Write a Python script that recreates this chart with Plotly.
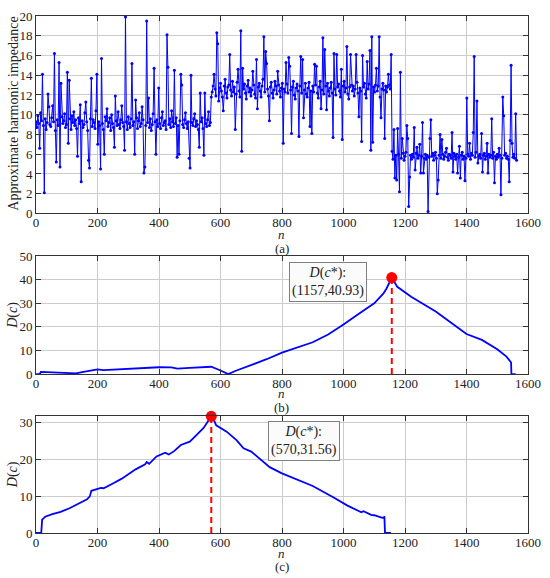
import plotly.graph_objects as go

# ---------------- data ----------------
step = 3
seg1_start, seg2_start, seg3_start = 0, 570, 1158

imp_seg1 = [
    9.3, 8.7, 9.9, 9.1, 6.6, 10.2, 9.4, 14.1, 8.9, 2.1,
    9.6, 8.5, 9.2, 12.1, 10.8, 9.0, 8.8, 9.7, 10.9, 9.3,
    16.2, 8.4, 5.2, 9.5, 8.9, 15.3, 4.7, 13.2, 9.8, 9.1,
    9.4, 10.1, 8.7, 9.0, 14.3, 7.1, 13.5, 9.6, 8.5, 9.9,
    9.2, 10.3, 8.9, 9.5, 8.6, 5.8, 9.7, 9.1, 11.0, 3.2,
    9.4, 8.7, 9.0, 10.2, 11.3, 9.3, 8.4, 5.4, 4.6, 9.6,
    13.7, 8.8, 9.5, 9.2, 8.6, 10.4, 14.1, 7.0, 9.3, 8.9,
    4.5, 15.7, 9.1, 8.5, 6.0, 9.8, 9.4, 10.6, 8.8, 9.2,
    9.7, 8.4, 10.0, 9.1, 8.7, 6.7, 11.9, 9.4, 8.9, 10.3,
    9.0, 8.6, 9.5, 10.9, 9.2, 8.8, 6.4, 19.9, 9.3, 8.5,
    9.8, 9.1, 8.7, 9.6, 15.2, 8.9, 9.3, 6.0, 11.5, 9.7,
    8.6, 9.4, 10.2, 8.8, 9.1, 10.8, 9.5, 4.1, 4.7, 8.9,
    19.5, 9.2, 11.7, 8.7, 9.6, 8.4, 9.0, 10.1, 14.7, 9.3,
    6.0, 9.5, 8.8, 12.7, 9.1, 8.6, 9.7, 10.3, 8.9, 9.2,
    9.4, 8.5, 18.1, 14.8, 9.0, 9.6, 8.7, 10.4, 9.3, 8.8,
    14.5, 9.1, 9.7, 5.7, 8.9, 6.0, 9.4, 14.1, 13.0, 9.0,
    8.7, 9.5, 10.2, 9.1, 8.6, 9.3, 5.6, 4.6, 14.0, 9.2,
    8.9, 9.6, 10.1, 8.8, 9.4, 9.0, 8.5, 6.7, 12.2, 9.3,
    9.7, 8.6, 5.9, 12.2, 9.1, 8.8, 9.5, 10.3, 8.9, 9.2,
]
imp_seg2 = [
    11.8, 12.3, 12.9, 14.1, 12.6, 11.9, 18.3, 17.2, 11.4, 12.7,
    13.2, 12.4, 11.8, 10.4, 12.9, 13.6, 12.2, 11.7, 12.8, 13.0,
    16.1, 12.5, 11.9, 13.4, 12.3, 12.8, 8.5, 12.1, 13.3, 14.6,
    12.4, 11.8, 18.5, 6.3, 14.7, 12.6, 13.1, 12.2, 11.6, 12.9,
    13.5, 12.3, 12.7, 11.9, 12.5, 14.4, 13.0, 12.1, 11.7, 15.6,
    10.6, 12.8, 13.2, 12.4, 11.8, 12.9, 13.6, 17.9, 12.3, 16.4,
    15.2, 12.6, 11.9, 9.4, 12.8, 13.3, 12.2, 11.7, 12.5, 13.4,
    12.9, 12.1, 14.4, 13.0, 12.4, 11.8, 12.7, 13.2, 7.1, 12.6,
    12.3, 15.3, 13.1, 12.2, 15.8, 14.9, 12.5, 8.1, 12.8, 13.4,
    12.0, 11.6, 12.7, 13.1, 12.4, 7.8, 12.9, 15.9, 12.2, 15.6,
    9.7, 12.5, 13.2, 12.1, 11.8, 12.7, 13.3, 8.8, 12.4, 8.1,
    12.9, 12.3, 15.1, 13.0, 14.9, 12.2, 11.7, 12.8, 13.4, 10.6,
    12.5, 17.8, 12.1, 16.6, 12.9, 10.5, 13.2, 12.4, 11.9, 12.7,
    13.3, 12.2, 7.7, 16.2, 12.6, 12.0, 16.1, 12.8, 13.1, 12.4,
    11.8, 14.6, 7.5, 12.9, 13.4, 12.3, 12.7, 16.9, 12.1, 11.6,
    12.8, 16.1, 13.0, 12.4, 12.9, 11.9, 12.6, 16.1, 13.3, 12.2,
    9.8, 12.7, 12.4, 7.3, 16.0, 12.8, 13.2, 12.1, 11.7, 15.4,
    12.6, 13.1, 16.5, 6.4, 17.9, 7.2, 12.8, 12.3, 13.0, 14.7,
    12.4, 12.9, 17.9, 11.8, 9.7, 12.6, 13.2, 12.5, 7.6, 12.9,
    12.3, 12.8, 14.1, 13.0, 12.6, 16.1,
]
imp_seg3 = [
    6.3, 5.5, 8.5, 3.6, 5.9, 3.4, 8.6, 6.0, 2.2, 14.3,
    5.6, 7.6, 6.1, 5.4, 5.8, 6.2, 8.9, 7.6, 0.7, 3.7,
    5.9, 5.5, 6.0, 5.7, 8.7, 4.4, 6.1, 6.7, 5.6, 5.9,
    7.0, 4.1, 5.8, 9.2, 4.1, 5.6, 6.0, 5.5, 5.9, 0.2,
    5.7, 7.6, 9.5, 5.8, 6.1, 5.4, 5.9, 6.2, 5.6, 2.0,
    3.4, 5.9, 8.0, 5.6, 7.5, 6.0, 5.5, 5.8, 6.2, 6.6,
    5.7, 5.4, 6.0, 5.9, 5.6, 8.2, 4.2, 6.1, 5.8, 5.5,
    6.0, 4.1, 5.7, 6.8, 3.6, 5.9, 6.2, 5.5, 5.8, 3.3,
    5.6, 11.7, 6.0, 5.8, 7.1, 5.5, 6.1, 5.9, 8.2, 15.9,
    5.7, 6.2, 11.4, 5.1, 5.8, 6.0, 5.6, 8.1, 4.2, 5.9,
    6.1, 5.5, 5.8, 7.1, 4.1, 6.0, 5.7, 5.9, 9.6, 5.6,
    6.2, 3.1, 5.8, 5.5, 6.0, 5.7, 6.6, 5.9, 1.9, 5.6,
    11.8, 9.9, 5.9, 6.1, 5.6, 5.8, 5.5, 3.2, 7.4, 15.0,
    7.1, 5.7, 6.0, 5.6, 10.1, 5.4,
]

b_n = [0, 12, 16, 40, 70, 100, 130, 150, 180, 200, 220, 260, 300, 340, 400, 440,
       460, 500, 540, 570, 600, 625, 650, 700, 750, 800, 850, 900, 950, 1000, 1050,
       1100, 1130, 1140, 1157, 1175, 1220, 1250, 1300, 1350, 1400, 1450, 1500,
       1530, 1545, 1546, 1560]
b_D = [0, 0, 0.9, 0.8, 0.6, 0.5, 0.3, 0.8, 1.6, 2.0, 1.7, 2.0, 2.3, 2.7, 2.9, 2.8,
       2.3, 2.6, 2.8, 3.1, 1.5, 0.0, 1.4, 3.8, 6.3, 9.1, 11.2, 13.5, 16.8, 21.0, 25.6,
       30.0, 34.2, 36.3, 40.93, 37.0, 32.8, 30.5, 26.5, 21.8, 17.0, 14.5, 10.5,
       7.4, 4.9, 0, 0]
b_peak_n, b_peak_D = 1157, 40.93

c_n = [0, 17, 20, 30, 53, 80, 109, 130, 166, 175, 180, 211, 220, 250, 279, 324,
       355, 360, 368, 392, 420, 432, 450, 471, 500, 516, 545, 570, 578, 586, 593,
       620, 652, 675, 700, 742, 760, 798, 850, 900, 968, 1013, 1058, 1065, 1090,
       1100, 1126, 1133, 1135, 1154]
c_D = [0, 0, 3.6, 4.4, 5.1, 5.7, 6.7, 7.6, 9.1, 9.9, 11.4, 12.2, 12.1, 13.4, 14.7, 17.2,
       18.6, 19.2, 18.7, 20.7, 21.7, 21.2, 22.2, 23.8, 24.7, 26.0, 28.4, 31.56, 30.6, 29.1, 28.7,
       27.4, 25.1, 22.9, 22.0, 18.9, 17.8, 16.2, 14.4, 12.7, 9.6, 7.4, 5.6, 5.9, 4.9,
       4.8, 4.1, 4.3, 0, 0]
c_peak_n, c_peak_D = 570, 31.56

x_ticks = [0, 200, 400, 600, 800, 1000, 1200, 1400, 1600]

# ---------------- figure ----------------
n_vals = ([seg1_start + step * i for i in range(len(imp_seg1))]
          + [seg2_start + step * i for i in range(len(imp_seg2))]
          + [seg3_start + step * i for i in range(len(imp_seg3))])
imp_vals = imp_seg1 + imp_seg2 + imp_seg3

FONT = "Liberation Serif"
BLUE = "#0000ff"
RED = "#ff0000"
W, H = 550, 578
ML, MR, MT, MB = 36, 18, 9, 45.3
PW, PH = W - ML - MR, H - MT - MB


def py(px_y):
    return (H - MB - px_y) / PH


def px(px_x):
    return (px_x - ML) / PW


fig = go.Figure()
fig.add_trace(go.Scatter(x=n_vals, y=imp_vals, mode="lines+markers",
                         line=dict(color=BLUE, width=1),
                         marker=dict(color=BLUE, size=3),
                         xaxis="x", yaxis="y", showlegend=False))
fig.add_trace(go.Scatter(x=b_n, y=b_D, mode="lines", line=dict(color=BLUE, width=1.8),
                         xaxis="x2", yaxis="y2", showlegend=False))
fig.add_trace(go.Scatter(x=[b_peak_n, b_peak_n], y=[0, b_peak_D], mode="lines",
                         line=dict(color=RED, width=2, dash="6px,4px"),
                         xaxis="x2", yaxis="y2", showlegend=False))
fig.add_trace(go.Scatter(x=[b_peak_n], y=[b_peak_D], mode="markers",
                         marker=dict(color=RED, size=11),
                         xaxis="x2", yaxis="y2", showlegend=False))
fig.add_trace(go.Scatter(x=c_n, y=c_D, mode="lines", line=dict(color=BLUE, width=1.8),
                         xaxis="x3", yaxis="y3", showlegend=False))
fig.add_trace(go.Scatter(x=[c_peak_n, c_peak_n], y=[0, c_peak_D], mode="lines",
                         line=dict(color=RED, width=2, dash="6px,4px"),
                         xaxis="x3", yaxis="y3", showlegend=False))
fig.add_trace(go.Scatter(x=[c_peak_n], y=[c_peak_D], mode="markers",
                         marker=dict(color=RED, size=11),
                         xaxis="x3", yaxis="y3", showlegend=False, cliponaxis=False))

ax_common = dict(showline=True, linecolor="#333333", linewidth=1, mirror="ticks",
                 ticks="inside", ticklen=5, tickcolor="#333333",
                 showgrid=True, gridcolor="#cccccc", gridwidth=1, zeroline=False,
                 tickfont=dict(family=FONT, size=13, color="#222222"))
xax_extra = dict(ticklabelstandoff=-3)

dom_a = [py(209), py(9)]
dom_b = [py(371.7), py(252.3)]
dom_c = [0, py(414.3)]

fig.update_layout(
    width=W, height=H,
    margin=dict(l=ML, r=MR, t=MT, b=MB),
    paper_bgcolor="white", plot_bgcolor="white",
    xaxis=dict(domain=[0, 1], anchor="y", range=[0, 1600], tickvals=x_ticks, **ax_common, **xax_extra),
    yaxis=dict(domain=dom_a, anchor="x", range=[0, 20], dtick=2, **ax_common),
    xaxis2=dict(domain=[0, 1], anchor="y2", range=[0, 1600], tickvals=x_ticks, **ax_common, **xax_extra),
    yaxis2=dict(domain=dom_b, anchor="x2", range=[0, 50], dtick=10, **ax_common),
    xaxis3=dict(domain=[0, 1], anchor="y3", range=[0, 1600], tickvals=x_ticks, **ax_common, **xax_extra),
    yaxis3=dict(domain=dom_c, anchor="x3", range=[0, 31.6], tickvals=[0, 10, 20, 30], **ax_common),
)

annos = [
    dict(text="Approximate harmonic impedance", x=px(13.8), y=py(108), textangle=-90, size=14),
    dict(text="<i>D</i>(<i>c</i>)", x=px(12.5), y=py(312), textangle=-90, size=14),
    dict(text="<i>D</i>(<i>c</i>)", x=px(12.5), y=py(473.5), textangle=-90, size=14),
    dict(text="<i>n</i>", x=px(283.5), y=py(230.3)),
    dict(text="(a)", x=px(283.5), y=py(244.5)),
    dict(text="<i>n</i>", x=px(283.5), y=py(391.5)),
    dict(text="(b)", x=px(283.5), y=py(405.3)),
    dict(text="<i>n</i>", x=px(283.5), y=py(553.3)),
    dict(text="(c)", x=px(283.5), y=py(567)),
]
for a in annos:
    size = a.pop("size", 13)
    fig.add_annotation(xref="paper", yref="paper", showarrow=False,
                       xanchor="center", yanchor="middle",
                       font=dict(family=FONT, size=size, color="#222222"), **a)

box_style = dict(showarrow=False, xanchor="center", yanchor="middle",
                 bgcolor="#fbfbfb", bordercolor="#808080", borderwidth=1, borderpad=2,
                 font=dict(family=FONT, size=14, color="#222222"))
fig.add_annotation(xref="x2", yref="y2", x=950, y=39.2,
                   text="<i>D</i>(<i>c</i>*):<br>(%d,%.2f)" % (b_peak_n, b_peak_D), **box_style)
fig.add_annotation(xref="x3", yref="y3", x=873, y=24.8,
                   text="<i>D</i>(<i>c</i>*):<br>(%d,%.2f)" % (c_peak_n, c_peak_D), **box_style)

fig.write_html("out.html", config={"displayModeBar": False},
               post_script="document.body.style.margin='0px';")
